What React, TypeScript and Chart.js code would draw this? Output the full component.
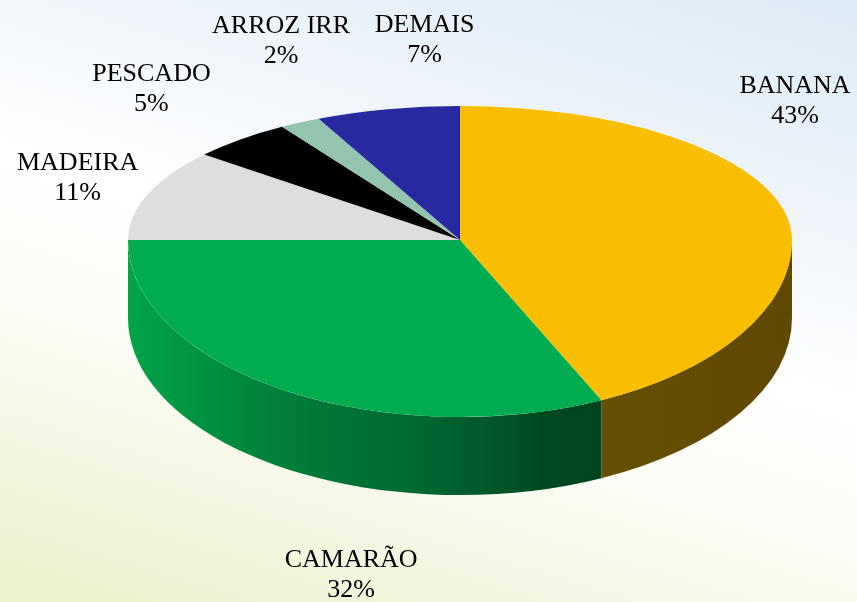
import React, { useEffect, useRef } from "react";
import { Chart, registerables } from "chart.js";

Chart.register(...registerables);

// ---- data ----
const categories = ["BANANA", "CAMARÃO", "MADEIRA", "PESCADO", "ARROZ IRR", "DEMAIS"];
const shares = [43, 32, 11, 5, 2, 7];

// ---- styles ----
const topColors = ["#FABE00", "#00AC4F", "#DEDEDE", "#000000", "#92C4AE", "#2828A0"];
const wallStops: Array<Array<[number, string]>> = [
  [[0, "#665000"], [1, "#5F4800"]],
  [[0, "#00A449"], [0.2, "#008C3F"], [0.4, "#007837"], [0.65, "#006530"], [0.88, "#00491F"], [1, "#00441F"]],
  [[0, "#A8A8A8"], [1, "#888888"]],
  [[0, "#000000"], [1, "#000000"]],
  [[0, "#5E8A78"], [1, "#4E7A68"]],
  [[0, "#1A1A70"], [1, "#141460"]],
];
// label offset (px) from the slice's outer rim point at its mid angle
const labelNudge: Array<[number, number]> = [
  [11, -118],
  [69, 178],
  [-70, -25],
  [-89, -58],
  [-19, -90],
  [37, -77],
];

const W = 857;
const H = 602;
const RX = 332; // horizontal radius of the tilted pie
const RY_BACK = 134; // vertical radius of far half
const RY_FRONT = 177; // vertical radius of near half
const DEPTH = 78;
const FONT = '26px "Liberation Serif", "Times New Roman", serif';

const pie3d = {
  id: "pie3d",
  beforeDatasetsDraw(chart: any) {
    const ctx: CanvasRenderingContext2D = chart.ctx;
    const meta = chart.getDatasetMeta(0);
    const arcs = meta.data as any[];
    if (!arcs.length) return false;
    const cx = arcs[0].x;
    const cy = arcs[0].y;
    const r0 = arcs[0].outerRadius;

    // side walls (front half only)
    arcs.forEach((arc, i) => {
      const a1 = Math.max(arc.startAngle, 0);
      const a2 = Math.min(arc.endAngle, Math.PI);
      if (a2 <= a1) return;
      const xs = cx + RX * Math.cos(a2);
      const xe = cx + RX * Math.cos(a1);
      const g = ctx.createLinearGradient(Math.min(xs, xe), 0, Math.max(xs, xe), 0);
      wallStops[i].forEach(([p, c]) => g.addColorStop(p, c));
      ctx.save();
      ctx.beginPath();
      ctx.ellipse(cx, cy, RX, RY_FRONT, 0, a1, a2);
      ctx.ellipse(cx, cy + DEPTH, RX, RY_FRONT, 0, a2, a1, true);
      ctx.closePath();
      ctx.fillStyle = g;
      ctx.fill();
      ctx.restore();
    });

    // top face: far half and near half with different foreshortening
    const halves = [
      { y0: 0, y1: cy + 1, ry: RY_BACK },
      { y0: cy, y1: H, ry: RY_FRONT },
    ];
    halves.forEach((h) => {
      ctx.save();
      ctx.beginPath();
      ctx.rect(0, h.y0, W, h.y1 - h.y0);
      ctx.clip();
      ctx.translate(cx, cy);
      ctx.scale(RX / r0, h.ry / r0);
      ctx.translate(-cx, -cy);
      arcs.forEach((arc) => arc.draw(ctx));
      ctx.restore();
    });
    return false;
  },
  afterDraw(chart: any) {
    const ctx: CanvasRenderingContext2D = chart.ctx;
    const arcs = chart.getDatasetMeta(0).data as any[];
    const total = shares.reduce((a, b) => a + b, 0);
    ctx.save();
    ctx.font = FONT;
    ctx.fillStyle = "#000";
    ctx.textAlign = "center";
    ctx.textBaseline = "alphabetic";
    arcs.forEach((arc, i) => {
      const m = (arc.startAngle + arc.endAngle) / 2;
      const s = Math.sin(m);
      const ax = arc.x + RX * Math.cos(m);
      const ay = arc.y + (s < 0 ? RY_BACK : RY_FRONT) * s;
      const x = ax + labelNudge[i][0];
      const y = ay + labelNudge[i][1];
      ctx.fillText(categories[i], x, y);
      ctx.fillText(`${Math.round((shares[i] / total) * 100)}%`, x, y + 30);
    });
    ctx.restore();
  },
};

export default function App() {
  const ref = useRef<HTMLCanvasElement | null>(null);
  useEffect(() => {
    document.body.style.margin = "0";
    const canvas = ref.current;
    if (!canvas) return;
    const chart = new Chart(canvas, {
      type: "pie",
      data: {
        labels: categories,
        datasets: [
          {
            data: shares,
            backgroundColor: topColors,
            borderWidth: 0,
            hoverOffset: 0,
            clip: false as any,
          },
        ],
      },
      options: {
        responsive: false,
        animation: false,
        events: [],
        layout: { padding: { left: 200, right: 137, top: 100, bottom: 222 } },
        plugins: { legend: { display: false }, tooltip: { enabled: false } },
      },
      plugins: [pie3d as any],
    });
    return () => chart.destroy();
  }, []);
  return (
    <div
      style={{
        width: W,
        height: H,
        background:
          "linear-gradient(196.7deg, #DCEAF5 0%, #F1F6FB 30%, #FFFFFF 47%, #FBFCF4 65%, #F2F6E0 82%, #EAF1CB 100%)",
      }}
    >
      <canvas ref={ref} width={W} height={H} style={{ display: "block" }} />
    </div>
  );
}
